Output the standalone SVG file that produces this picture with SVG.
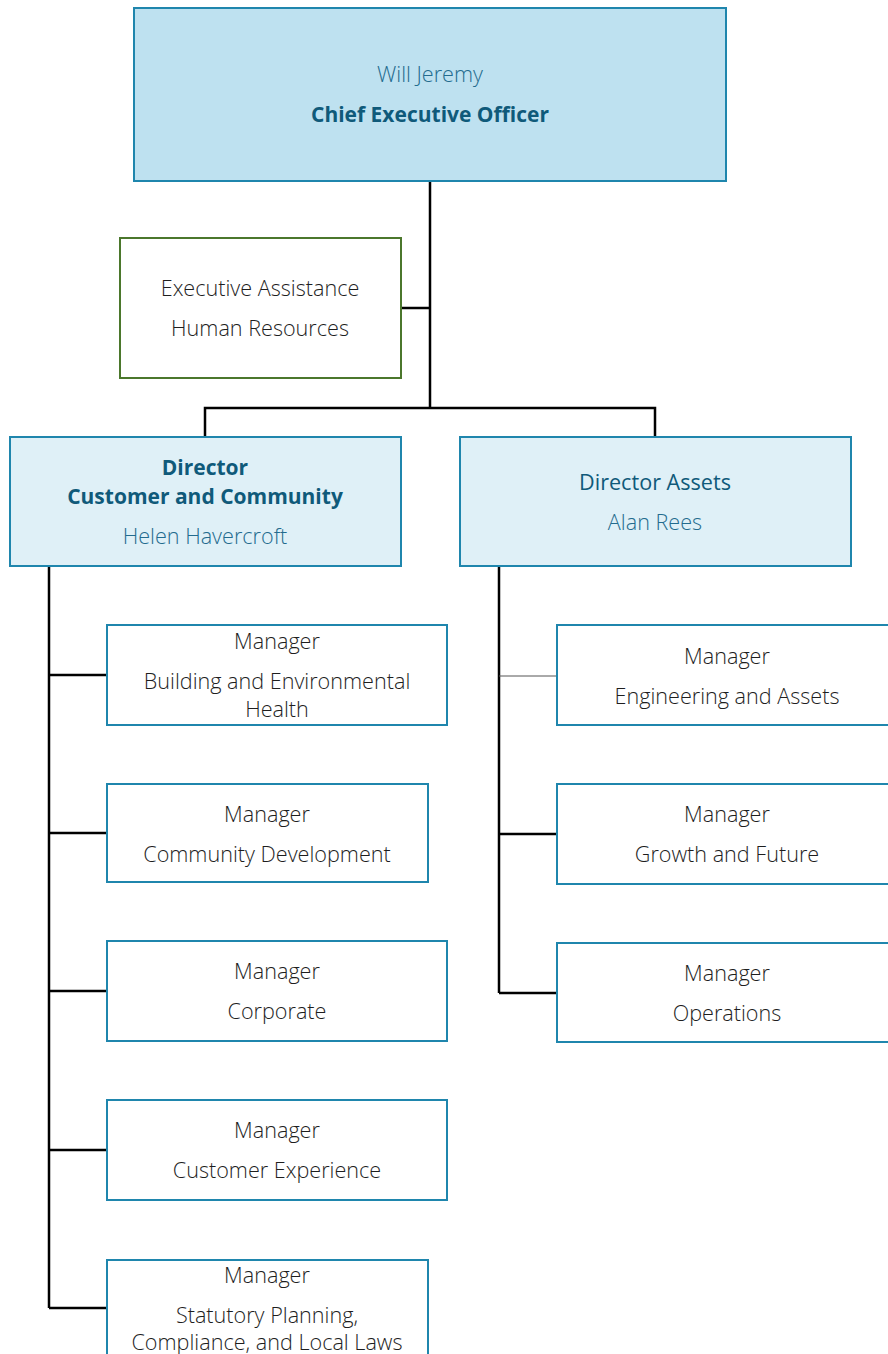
<svg xmlns="http://www.w3.org/2000/svg" width="888" height="1354" viewBox="0 0 888 1354">
<style>
text{font-family:"Open Sans","Noto Sans","DejaVu Sans",sans-serif;font-size:21.6px;text-anchor:middle;}
.t{font-weight:300;fill:#1e1e1e;}
.nm{font-weight:300;fill:#236b8e;}
.b{font-weight:700;fill:#0f5a7a;font-size:21px;}
.m{font-weight:400;fill:#0f5a7a;}
.ceo{fill:#bee1f0;stroke:#1f86ad;stroke-width:2;}
.dir{fill:#dff0f7;stroke:#1f86ad;stroke-width:2;}
.mgr{fill:#fff;stroke:#1f86ad;stroke-width:2;}
.ea{fill:#fff;stroke:#4b772c;stroke-width:2;}
.c{stroke:#000;stroke-width:2.5;fill:none;}
</style>
<g id="connectors">
<path class="c" d="M430 181V408M401 308H430M205 437V408H655V437"/>
<path class="c" d="M49 566V1308M49 675H107M49 833H107M49 991H107M49 1150H107M49 1308H107"/>
<path class="c" d="M499 566V993M499 834H557M499 993H557"/>
<path d="M499 676H557" stroke="#555" stroke-width="1" fill="none"/>
</g>
<g id="ceo"><rect class="ceo" x="134" y="8" width="592" height="173"/>
<text class="nm" x="430" y="82">Will Jeremy</text>
<text class="b" x="430" y="122">Chief Executive Officer</text></g>
<g id="ea"><rect class="ea" x="120" y="238" width="281" height="140"/>
<text class="t" x="260" y="296">Executive Assistance</text>
<text class="t" x="260" y="336">Human Resources</text></g>
<g id="dir-cc"><rect class="dir" x="10" y="437" width="391" height="129"/>
<text class="b" x="205" y="475">Director</text>
<text class="b" x="205" y="504">Customer and Community</text>
<text class="nm" x="205" y="544">Helen Havercroft</text></g>
<g id="dir-assets"><rect class="dir" x="460" y="437" width="391" height="129"/>
<text class="m" x="655" y="490">Director Assets</text>
<text class="nm" x="655" y="530">Alan Rees</text></g>
<g id="m-building"><rect class="mgr" x="107" y="625" width="340" height="100"/>
<text class="t" x="277" y="649">Manager</text>
<text class="t" x="277" y="689">Building and Environmental</text>
<text class="t" x="277" y="717">Health</text></g>
<g id="m-community"><rect class="mgr" x="107" y="784" width="321" height="98"/>
<text class="t" x="267" y="822">Manager</text>
<text class="t" x="267" y="862">Community Development</text></g>
<g id="m-corporate"><rect class="mgr" x="107" y="941" width="340" height="100"/>
<text class="t" x="277" y="979">Manager</text>
<text class="t" x="277" y="1019">Corporate</text></g>
<g id="m-customer"><rect class="mgr" x="107" y="1100" width="340" height="100"/>
<text class="t" x="277" y="1138">Manager</text>
<text class="t" x="277" y="1178">Customer Experience</text></g>
<g id="m-statutory"><rect class="mgr" x="107" y="1260" width="321" height="110"/>
<text class="t" x="267" y="1283">Manager</text>
<text class="t" x="267" y="1323">Statutory Planning,</text>
<text class="t" x="267" y="1350">Compliance, and Local Laws</text></g>
<g id="m-engineering"><rect class="mgr" x="557" y="625" width="340" height="100"/>
<text class="t" x="727" y="664">Manager</text>
<text class="t" x="727" y="704">Engineering and Assets</text></g>
<g id="m-growth"><rect class="mgr" x="557" y="784" width="340" height="100"/>
<text class="t" x="727" y="822">Manager</text>
<text class="t" x="727" y="862">Growth and Future</text></g>
<g id="m-operations"><rect class="mgr" x="557" y="943" width="340" height="99"/>
<text class="t" x="727" y="981">Manager</text>
<text class="t" x="727" y="1021">Operations</text></g>
</svg>
